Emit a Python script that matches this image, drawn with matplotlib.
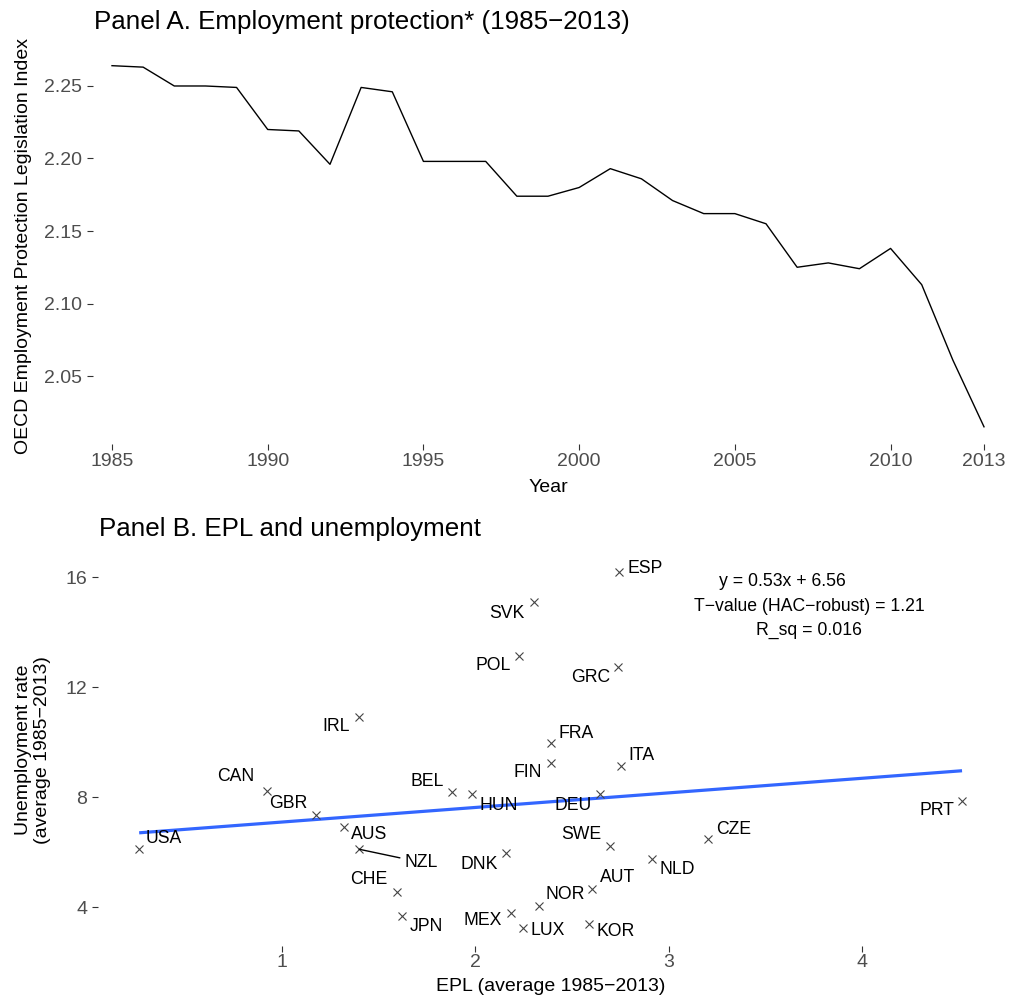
import matplotlib
matplotlib.use("Agg")
import matplotlib.pyplot as plt

plt.rcParams['font.family'] = ['Liberation Sans', 'DejaVu Sans']

# ---------------- Data ----------------
years = list(range(1985, 2014))
epl_index = [2.264, 2.263, 2.250, 2.250, 2.249, 2.220, 2.219, 2.196, 2.249, 2.246,
             2.198, 2.198, 2.198, 2.174, 2.174, 2.180, 2.193, 2.186, 2.171, 2.162,
             2.162, 2.155, 2.125, 2.128, 2.124, 2.138, 2.113, 2.061, 2.015]
year_ticks = [1985, 1990, 1995, 2000, 2005, 2010, 2013]
epl_ticks = [2.05, 2.10, 2.15, 2.20, 2.25]

countries = ['USA', 'CAN', 'GBR', 'AUS', 'NZL', 'CHE', 'JPN', 'BEL', 'HUN', 'DNK',
             'MEX', 'LUX', 'NOR', 'FIN', 'FRA', 'ITA', 'DEU', 'SWE', 'NLD', 'CZE',
             'AUT', 'KOR', 'PRT', 'SVK', 'POL', 'IRL', 'ESP', 'GRC']
epl_avg = [0.260, 0.923, 1.173, 1.321, 1.399, 1.594, 1.619, 1.879, 1.984, 2.158,
           2.184, 2.245, 2.331, 2.390, 2.390, 2.755, 2.645, 2.697, 2.916, 3.206,
           2.602, 2.588, 4.519, 2.302, 2.227, 1.399, 2.742, 2.738]
unemp_avg = [6.10, 8.23, 7.35, 6.90, 6.10, 4.55, 3.68, 8.19, 8.12, 5.95,
             3.77, 3.25, 4.04, 9.25, 9.95, 9.14, 8.11, 6.23, 5.75, 6.46,
             4.64, 3.37, 7.87, 15.08, 13.13, 10.92, 16.18, 12.74]
fit_slope = 0.53
fit_intercept = 6.56
fit_tvalue = 1.21
fit_rsq = 0.016
epl_avg_ticks = [1, 2, 3, 4]
unemp_ticks = [4, 8, 12, 16]

# label offsets in pixels (dx, dy) relative to each point
label_offsets = {
    'USA': (25, 11), 'CAN': (-31.6, 14), 'GBR': (-27.7, 11), 'AUS': (25, -7.7),
    'NZL': (61.5, -13), 'CHE': (-27.7, 12), 'JPN': (24.3, -10.3), 'BEL': (-25, 10.4),
    'HUN': (26.4, -11.3), 'DNK': (-26.7, -11.3), 'MEX': (-28, -7.3), 'FIN': (-23, -9.7),
    'FRA': (25.5, 10), 'ITA': (20.5, 10), 'DEU': (-27, -12), 'SWE': (-28.3, 11.4),
    'NLD': (25.2, -11), 'CZE': (25, 10), 'AUT': (25.8, 12), 'NOR': (25.4, 11.7),
    'LUX': (24.6, -3.3), 'KOR': (26.8, -6.7), 'PRT': (-25.5, -10.3), 'SVK': (-26.5, -11),
    'POL': (-25.8, -10), 'IRL': (-23, -9.3), 'ESP': (26, 3.7), 'GRC': (-27.7, -11),
}

# ---------------- Figure ----------------
W, H = 1009, 999
fig = plt.figure(figsize=(W / 100, H / 100), dpi=100)
fig.patch.set_facecolor('white')

TICK_COLOR = '#333333'
TICKLAB_COLOR = '#4D4D4D'
TICK_FS = 14
TITLE_FS = 18.7
AXT_FS = 14
LAB_FS = 12.7


def style_axes(ax):
    for s in ax.spines.values():
        s.set_visible(False)
    ax.tick_params(axis='both', which='major', color=TICK_COLOR, labelcolor=TICKLAB_COLOR,
                   labelsize=TICK_FS, length=4.3, width=0.8)
    ax.tick_params(axis='y', pad=3.5)
    ax.tick_params(axis='x', pad=2)
    ax.set_facecolor('white')


# Panel A
axA = fig.add_axes([93 / W, 1 - 444.2 / H, 910 / W, (444.2 - 47.7) / H])
style_axes(axA)
axA.plot(years, epl_index, color='black', lw=1.0)
axA.set_xlim(1984.39, 2013.61)
axA.set_ylim(2.003, 2.2764)
axA.set_xticks(year_ticks)
axA.set_xticklabels([str(y) for y in year_ticks])
axA.set_yticks(epl_ticks)
axA.set_yticklabels([f"{v:.2f}" for v in epl_ticks])
axA.set_xlabel('Year', fontsize=AXT_FS, color='black', va='center')
axA.xaxis.set_label_coords(0.5, -0.108)
axA.set_ylabel('OECD Employment Protection Legislation Index', fontsize=AXT_FS,
               color='black', va='center')
axA.yaxis.set_label_coords(-0.0769, 0.5)
axA.text(0.001, 1.0464, 'Panel A. Employment protection* (1985\u22122013)',
         transform=axA.transAxes, fontsize=TITLE_FS, ha='left', va='baseline', color='black')

# Panel B
axB = fig.add_axes([98 / W, 1 - 945.5 / H, (1003.2 - 98) / W, (945.5 - 554.2) / H])
style_axes(axB)
x0, x1 = min(epl_avg), max(epl_avg)
axB.plot([x0, x1], [fit_slope * x0 + fit_intercept, fit_slope * x1 + fit_intercept],
         color='#3366FF', lw=2.3, solid_capstyle='butt', zorder=2)
axB.plot(epl_avg, unemp_avg, linestyle='none', marker='x', markersize=6.2,
         markeredgewidth=0.8, color='#444444', zorder=3)
for c, xv, yv in zip(countries, epl_avg, unemp_avg):
    dx, dy = label_offsets[c]
    if c == 'NZL':
        axB.annotate(c, xy=(xv, yv), xytext=(dx, dy), textcoords='offset pixels',
                     ha='center', va='center', fontsize=LAB_FS, color='black',
                     arrowprops=dict(arrowstyle='-', color='black', lw=1.0,
                                     shrinkA=1, shrinkB=0), zorder=4)
    else:
        axB.annotate(c, xy=(xv, yv), xytext=(dx, dy), textcoords='offset pixels',
                     ha='center', va='center', fontsize=LAB_FS, color='black', zorder=4)

axB.text(3.587, 15.83, f"y = {fit_slope:.2f}x + {fit_intercept:.2f}", ha='center', va='center',
         fontsize=LAB_FS, color='black')
axB.text(3.727, 14.92, f"T\u2212value (HAC\u2212robust) = {fit_tvalue:.2f}", ha='center',
         va='center', fontsize=LAB_FS, color='black')
axB.text(3.727, 14.07, f"R_sq = {fit_rsq:.3f}", ha='center', va='center',
         fontsize=LAB_FS, color='black')

axB.set_xlim(0.047, 4.732)
axB.set_ylim(2.60, 16.83)
axB.set_xticks(epl_avg_ticks)
axB.set_xticklabels([str(v) for v in epl_avg_ticks])
axB.set_yticks(unemp_ticks)
axB.set_yticklabels([str(v) for v in unemp_ticks])
axB.set_xlabel('EPL (average 1985\u22122013)', fontsize=AXT_FS, color='black', va='center')
axB.xaxis.set_label_coords(0.5, -0.106)
axB.set_ylabel('Unemployment rate\n(average 1985\u22122013)', fontsize=AXT_FS, color='black',
               va='center', ha='center', multialignment='center', linespacing=1.15)
axB.yaxis.set_label_coords(-0.0713, 0.5)
axB.text(0.001, 1.047, 'Panel B. EPL and unemployment', transform=axB.transAxes,
         fontsize=TITLE_FS, ha='left', va='baseline', color='black')

fig.savefig('out.png', dpi=100, facecolor='white')
